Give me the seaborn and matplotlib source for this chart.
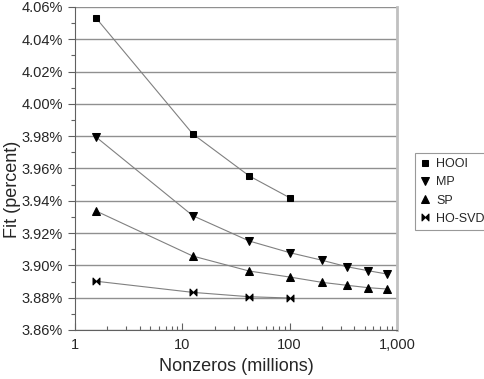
import numpy as np
import pandas as pd
import matplotlib
matplotlib.use("Agg")
import matplotlib.pyplot as plt
import matplotlib.ticker as mticker
from matplotlib.path import Path
import seaborn as sns

# Data (nonzeros in millions, fit in percent)
hooi_x = [1.57, 12.5, 42, 100]
hooi_y = [4.0532, 3.9814, 3.9554, 3.9419]
mp_x = [1.57, 12.5, 42, 100, 200, 340, 540, 800]
mp_y = [3.9795, 3.9308, 3.9151, 3.9079, 3.9032, 3.8992, 3.8967, 3.8947]
sp_x = [1.57, 12.5, 42, 100, 200, 340, 540, 800]
sp_y = [3.9337, 3.9058, 3.8965, 3.8928, 3.8895, 3.8877, 3.8862, 3.8854]
hosvd_x = [1.57, 12.5, 42, 100]
hosvd_y = [3.8902, 3.8833, 3.8806, 3.8798]

sns.set_style("white")
plt.rcParams['font.family'] = ['Liberation Sans', 'DejaVu Sans']

# bowtie marker for HO-SVD
bowtie = Path([(-1, -1), (0, 0), (1, -1), (1, 1), (0, 0), (-1, 1), (-1, -1)],
              [Path.MOVETO] + [Path.LINETO] * 5 + [Path.CLOSEPOLY])

fig = plt.figure(figsize=(4.84, 3.79), dpi=100)
ax = fig.add_axes([75 / 484, 1 - 330 / 379, (397 - 75) / 484, (330 - 7) / 379])

series = [("HOOI", hooi_x, hooi_y, "s", 5),
          ("MP", mp_x, mp_y, "v", 6),
          ("SP", sp_x, sp_y, "^", 6),
          ("HO-SVD", hosvd_x, hosvd_y, bowtie, 5)]
for name, xs, ys, mk, ms in series:
    sns.lineplot(x=xs, y=ys, ax=ax, color="#808080", linewidth=0.8,
                 marker=mk, markersize=ms, markerfacecolor="black",
                 markeredgecolor="black", label=name)

ax.set_xscale("log")
ax.set_xlim(1, 1000)
ax.set_ylim(3.86, 4.06)
ax.set_yticks(np.arange(3.86, 4.0601, 0.02))
ax.yaxis.set_minor_locator(mticker.MultipleLocator(0.01))
ax.yaxis.set_major_formatter(mticker.FuncFormatter(lambda v, p: f"{v:.2f}%"))
ax.xaxis.set_major_formatter(mticker.FuncFormatter(lambda v, p: f"{v:,.0f}"))
ax.xaxis.set_minor_locator(mticker.LogLocator(base=10, subs=np.arange(2, 10)))
ax.xaxis.set_minor_formatter(mticker.NullFormatter())

ax.grid(axis="y", which="major", color="#909090", linewidth=1)
ax.set_axisbelow(True)
ax.tick_params(axis="both", which="major", direction="out", length=5, width=0.8,
               color="#606060", labelsize=10.5, left=True, bottom=True)
ax.tick_params(axis="both", which="minor", direction="out", length=3, width=0.8,
               color="#606060", left=True, bottom=True)
ax.tick_params(axis="x", which="both", direction="in")
ax.tick_params(axis="x", which="major", pad=6)

for s in ["left", "bottom"]:
    ax.spines[s].set_color("#606060")
    ax.spines[s].set_linewidth(0.8)
ax.spines["top"].set_visible(False)
ax.spines["right"].set_color("#c0c0c0")
ax.spines["right"].set_linewidth(2)

ax.set_xlabel("Nonzeros (millions)", fontsize=13, labelpad=4)
ax.set_ylabel("Fit (percent)", fontsize=13)
ax.yaxis.set_label_coords(4 / 484, 0.5, transform=fig.transFigure)
ax.yaxis.label.set_va("top")

leg = ax.legend(loc="upper left", bbox_to_anchor=(415 / 484, 1 - 153 / 379),
                bbox_transform=fig.transFigure, frameon=True, fancybox=False,
                fontsize=9, handlelength=0.8, handletextpad=0.5, borderpad=0.4,
                labelspacing=0.5, borderaxespad=0)
leg.get_frame().set_edgecolor("#808080")
leg.get_frame().set_linewidth(0.8)
for h in leg.legend_handles:
    h.set_linestyle("none")

fig.savefig("out.png", dpi=100)
